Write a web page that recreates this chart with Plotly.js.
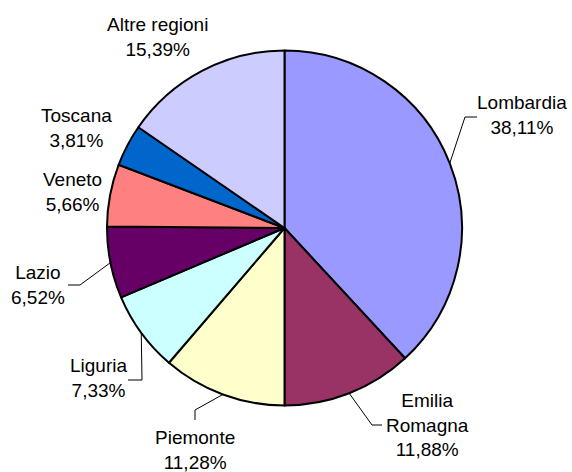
<!DOCTYPE html>
<html><head><meta charset="utf-8">
<script src="https://cdn.plot.ly/plotly-3.0.1.min.js"></script>
<style>html,body{margin:0;padding:0;background:#fff}</style>
</head><body><div id="chart" style="width:572px;height:472px"></div>
<script>
const regions = ["Lombardia","Emilia Romagna","Piemonte","Liguria","Lazio","Veneto","Toscana","Altre regioni"];
const labelLines = ["Lombardia","Emilia<br>Romagna","Piemonte","Liguria","Lazio","Veneto","Toscana","Altre regioni"];
const shares = [38.11,11.88,11.28,7.33,6.52,5.66,3.81,15.39];
const colors = ["#9999FF","#993366","#FFFFCC","#CCFFFF","#660066","#FF8080","#0066CC","#CCCCFF"];

const W=572, H=472, CX=284.5, CY=228, R=177.5;
// label block centres (px) and leader line elbow/end points (px)
const labelPos = [
  {x:522, y:115, line:[[465,117],[477,117]]},
  {x:427, y:425, line:[[372,425],[382,425]]},
  {x:195, y:450, line:[[195,410],[195,420]]},
  {x:98,  y:378, line:[[142,380],[128,380]]},
  {x:38,  y:285, line:[[80,285],[68,285]]},
  {x:72,  y:192, line:null},
  {x:76,  y:128, line:null},
  {x:158, y:37,  line:null}
];
const px = v => v / W, py = v => 1 - v / H;
const total = shares.reduce((a,b)=>a+b,0);
const fmt = v => v.toFixed(2).replace('.', ',') + '%';

const annotations = [], shapes = [];
let cum = 0;
shares.forEach((v,i) => {
  const mid = (cum + v/2) / total * 2 * Math.PI;
  cum += v;
  const lp = labelPos[i];
  annotations.push({
    xref:'paper', yref:'paper', x:px(lp.x), y:py(lp.y),
    xanchor:'center', yanchor:'middle', align:'center', showarrow:false,
    text: labelLines[i] + '<br>' + fmt(v),
    font:{family:'Liberation Sans, Arial, sans-serif', size:19, color:'#000'}
  });
  if (lp.line) {
    const ex = CX + R*Math.sin(mid), ey = CY - R*Math.cos(mid);
    const pts = [[ex,ey]].concat(lp.line);
    const path = pts.map((p,k)=> (k? 'L ':'M ') + px(p[0]) + ' ' + py(p[1])).join(' ');
    shapes.push({type:'path', xref:'paper', yref:'paper', path:path, line:{color:'#000', width:1}});
  }
});

const trace = {
  type:'pie', labels:regions, values:shares, sort:false, direction:'clockwise', rotation:0,
  textinfo:'none', textposition:'none', hoverinfo:'label+percent',
  marker:{colors:colors, line:{color:'#000', width:2}},
  domain:{x:[(CX-R)/W, (CX+R)/W], y:[1-(CY+R)/H, 1-(CY-R)/H]},
  showlegend:false
};
const layout = {
  width:W, height:H, margin:{l:0,r:0,t:0,b:0},
  paper_bgcolor:'#fff', plot_bgcolor:'#fff',
  showlegend:false, annotations:annotations, shapes:shapes,
  font:{family:'Liberation Sans, Arial, sans-serif'}
};
Plotly.newPlot('chart', [trace], layout, {displayModeBar:false, staticPlot:true});
</script></body></html>
